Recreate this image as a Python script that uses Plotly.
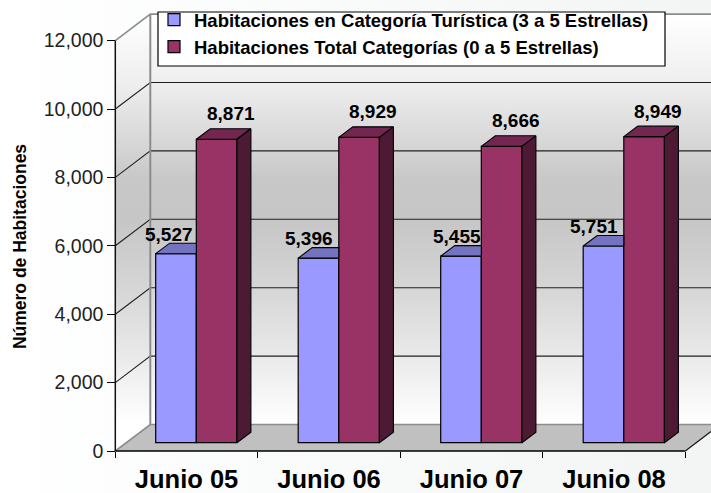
import plotly.graph_objects as go

# ---- data ----
categories = ["Junio 05", "Junio 06", "Junio 07", "Junio 08"]
turistica = [5527, 5396, 5455, 5751]
total = [8871, 8929, 8666, 8949]
series_names = ["Habitaciones en Categoría Turística (3 a 5 Estrellas)",
                "Habitaciones Total Categorías (0 a 5 Estrellas)"]
y_ticks = [0, 2000, 4000, 6000, 8000, 10000, 12000]
y_title = "Número de Habitaciones"

# ---- geometry (pixel scale of the page -> data units) ----
W, H = 711, 493
PX_X = 142.5          # px per category
PX_Y = 68.4 / 2000    # px per room
X0_PX, Y0_PX = 115.3, 451.0
xr = [-X0_PX / PX_X, (W - X0_PX) / PX_X]
yr = [-(H - Y0_PX) / PX_Y, Y0_PX / PX_Y]
YMAX = 12000
N = len(categories)

WALL_DX, WALL_DY = 35 / PX_X, 26.5 / PX_Y
BAR_OX, BAR_OY = 10.8 / PX_X, 8.3 / PX_Y
BAR_DX, BAR_DY = 14 / PX_X, 10.5 / PX_Y
BAR_W = 40.6 / PX_X
BAR_GAP = (155.7 - X0_PX - 10.8) / PX_X

BLUE, BLUE_TOP = "#9999ff", "#7373bf"
RED, RED_TOP, RED_SIDE = "#993366", "#732650", "#4d1a33"
WALL_GRAD = [[0, "#ffffff"], [0.17, "#e9e9e9"], [0.33, "#d6d6d6"], [0.5, "#c6c6c6"],
             [0.6, "#c8c8c8"], [0.67, "#d4d4d4"], [0.83, "#eeeeee"], [1, "#ffffff"]]

fig = go.Figure()


def poly(xs, ys, color=None, axes=("x", "y"), gradient=None):
    kw = dict(fillgradient=gradient) if gradient else dict(fillcolor=color)
    fig.add_trace(go.Scatter(x=xs, y=ys, mode="lines", fill="toself",
                             line=dict(width=0, color="rgba(0,0,0,0)"), hoverinfo="skip",
                             showlegend=False, xaxis=axes[0], yaxis=axes[1], **kw))


def outline(xs, ys, color="#000000", width=1.0, axes=("x", "y")):
    fig.add_trace(go.Scatter(x=xs, y=ys, mode="lines", line=dict(color=color, width=width),
                             hoverinfo="skip", showlegend=False, xaxis=axes[0], yaxis=axes[1]))


# page tint
grad_page = dict(type="horizontal", colorscale=[[0, "#ffffff"], [1, "#f3f5f5"]])
poly([xr[0], xr[1], xr[1], xr[0]], [yr[0], yr[0], yr[1], yr[1]], gradient=grad_page)

# walls and floor
wall_grad = dict(type="vertical", colorscale=WALL_GRAD, start=WALL_DY, stop=YMAX + WALL_DY)
poly([0, WALL_DX, WALL_DX, 0], [0, WALL_DY, YMAX + WALL_DY, YMAX], gradient=wall_grad)
poly([WALL_DX, N + WALL_DX, N + WALL_DX, WALL_DX],
     [WALL_DY, WALL_DY, YMAX + WALL_DY, YMAX + WALL_DY], gradient=wall_grad)
poly([0, N, N + WALL_DX, WALL_DX], [0, 0, WALL_DY, WALL_DY], color="#c0c0c0")

# gridlines
for t in y_ticks[1:-1]:
    outline([0, WALL_DX, N + WALL_DX], [t, t + WALL_DY, t + WALL_DY], "#222222", 1.1)
outline([0, WALL_DX, WALL_DX, N + WALL_DX], [YMAX, YMAX + WALL_DY, YMAX + WALL_DY, YMAX + WALL_DY], "#8c8c8c", 1.6)
outline([0, WALL_DX, N + WALL_DX], [0, WALL_DY, WALL_DY], "#8c8c8c", 1.6)
outline([WALL_DX, WALL_DX], [WALL_DY, YMAX + WALL_DY], "#8c8c8c", 2)
outline([0, 0], [0, YMAX], "#111111", 1.5)
outline([0, N], [0, 0], "#000000", 1.6)
outline([N, N + WALL_DX], [0, WALL_DY], "#111111", 1.2)

ov = ("x2", "y2")
lefts = [i + BAR_GAP + BAR_OX for i in range(N)]

# front faces: real bars, on an overlay so they sit over the walls
fig.add_trace(go.Bar(x=[l + BAR_W / 2 for l in lefts], y=turistica, base=BAR_OY, width=BAR_W,
                     name=series_names[0], xaxis="x2", yaxis="y2",
                     marker=dict(color=BLUE, line=dict(color="#000000", width=1.2))))
fig.add_trace(go.Bar(x=[l + 1.5 * BAR_W for l in lefts], y=total, base=BAR_OY, width=BAR_W,
                     name=series_names[1], xaxis="x2", yaxis="y2",
                     marker=dict(color=RED, line=dict(color="#000000", width=1.2))))

# depth faces
for l, a, b in zip(lefts, turistica, total):
    ta, tb = a + BAR_OY, b + BAR_OY
    xs = [l, l + BAR_DX, l + BAR_W, l + BAR_W]
    ys = [ta, ta + BAR_DY, ta + BAR_DY, ta]
    poly(xs, ys, BLUE_TOP, ov)
    outline(xs + [xs[0]], ys + [ys[0]], "#000000", 1.1, ov)
    m, r = l + BAR_W, l + 2 * BAR_W
    xs = [m, m + BAR_DX, r + BAR_DX, r]
    ys = [tb, tb + BAR_DY, tb + BAR_DY, tb]
    poly(xs + [xs[0]], ys + [ys[0]], RED_TOP, ov)
    outline(xs + [xs[0]], ys + [ys[0]], "#000000", 1.1, ov)
    xs = [r, r + BAR_DX, r + BAR_DX, r]
    ys = [tb, tb + BAR_DY, BAR_OY + BAR_DY, BAR_OY]
    poly(xs + [xs[0]], ys + [ys[0]], RED_SIDE, ov)
    outline(xs + [xs[0]], ys + [ys[0]], "#000000", 1.1, ov)

# value labels
label_font = dict(family="Liberation Sans, Arial", size=19, color="#000000", weight=700)
blue_shift = [-21, -23.5, -18, -23.5]
for l, a, b, s in zip(lefts, turistica, total, blue_shift):
    fig.add_annotation(x=l + BAR_W / 2 + BAR_DX, y=a + BAR_OY + BAR_DY, xref="x2", yref="y2",
                       text=f"{a:,}", showarrow=False, font=label_font, xshift=s, yshift=9,
                       xanchor="center", yanchor="middle")
    fig.add_annotation(x=l + 1.5 * BAR_W + BAR_DX, y=b + BAR_OY + BAR_DY, xref="x2", yref="y2",
                       text=f"{b:,}", showarrow=False, font=label_font, yshift=15,
                       xanchor="center", yanchor="middle")

# legend frame (sits behind the legend entries)
fig.add_shape(type="rect", xref="paper", yref="paper", layer="above",
              x0=158 / W, x1=665 / W, y0=1 - 66 / H, y1=1 - 12 / H,
              fillcolor="#ffffff", line=dict(color="#000000", width=1.2))

fig.update_layout(
    width=W, height=H, margin=dict(l=0, r=0, t=0, b=0, autoexpand=False),
    paper_bgcolor="#ffffff", plot_bgcolor="rgba(0,0,0,0)", barmode="overlay",
    font=dict(family="Liberation Sans, Arial", color="#000000"),
    xaxis=dict(range=xr, domain=[0, 1], anchor="free", position=(H - Y0_PX) / H, showgrid=False,
               zeroline=False, showline=False, tickmode="array",
               tickvals=[i + 0.5 for i in range(N)], ticktext=categories,
               ticks="outside", ticklen=5, tickcolor="rgba(0,0,0,0)",
               tickfont=dict(size=25.5, weight=700, color="#000000"),
               minor=dict(tickmode="array", tickvals=list(range(N + 1)), ticks="outside",
                          ticklen=6, tickcolor="#000000", tickwidth=1.2)),
    yaxis=dict(range=yr, domain=[0, 1], anchor="free", position=X0_PX / W, showgrid=False,
               zeroline=False, showline=False, tickmode="array", tickvals=y_ticks,
               tickformat=",d", ticks="outside", ticklen=8, tickcolor="#000000", tickwidth=1.2,
               tickfont=dict(size=19.5, color="#222222"),
               title=dict(text=y_title, font=dict(size=17.5, weight=700, color="#000000"), standoff=11)),
    xaxis2=dict(range=xr, overlaying="x", visible=False, domain=[0, 1]),
    yaxis2=dict(range=yr, overlaying="y", visible=False, domain=[0, 1]),
    legend=dict(x=154 / W, y=1 - 1 / H, xanchor="left", yanchor="top",
                bgcolor="rgba(0,0,0,0)", borderwidth=0,
                font=dict(size=18.5, weight=700, color="#000000")),
    showlegend=True,
)
fig.write_html("out.html", config={"displayModeBar": False},
               post_script="document.body.style.margin='0';")
